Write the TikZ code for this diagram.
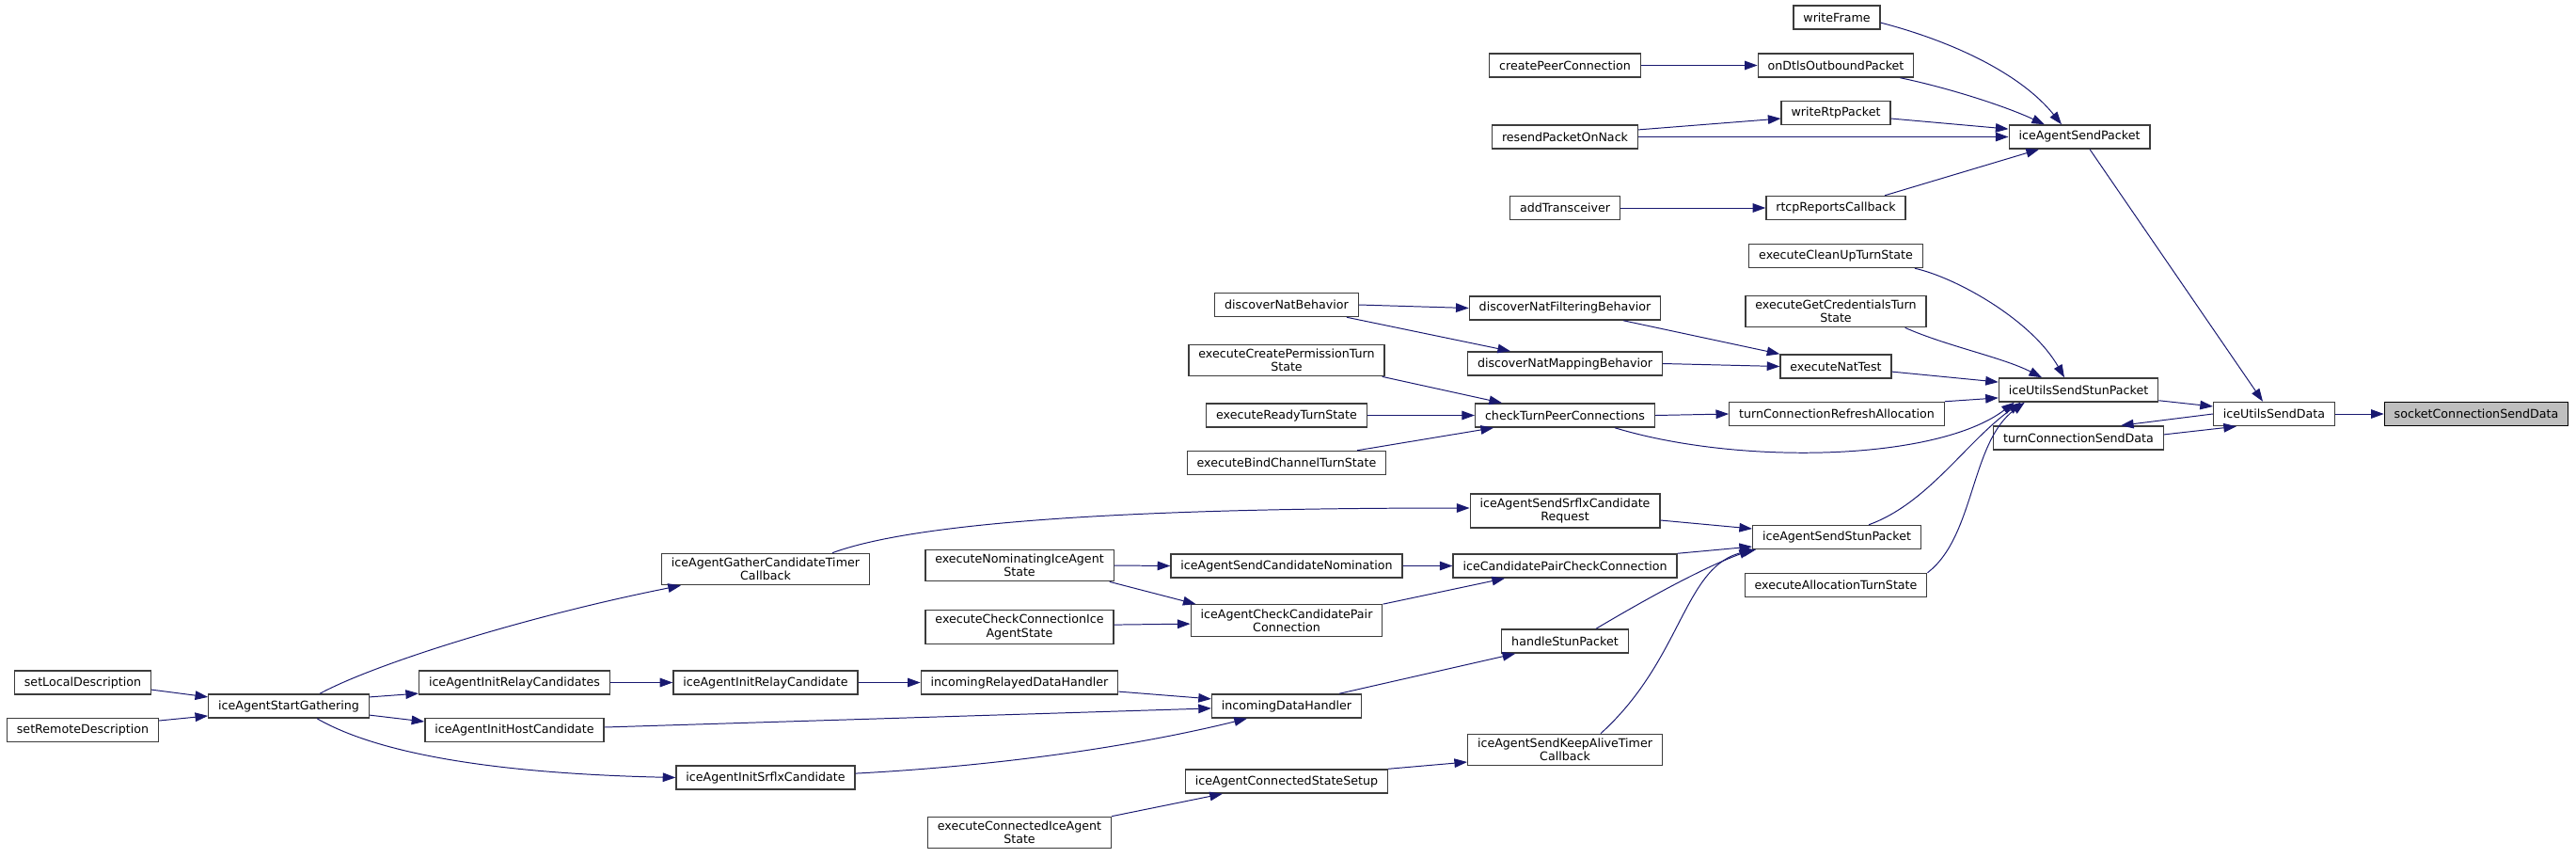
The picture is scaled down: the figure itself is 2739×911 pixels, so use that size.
\documentclass[tikz,border=0pt]{standalone}
\usepackage{fontspec}
\setmainfont{DejaVu Sans}
\usepackage{tikz}
\usetikzlibrary{arrows.meta}
\definecolor{callblue}{RGB}{25,25,112}
\definecolor{boxline}{RGB}{60,60,60}

\begin{document}
\begin{tikzpicture}[
  x=0.25mm,y=-0.25mm,>={Triangle[length=3.4mm,width=2.4mm]},
  fn/.style={draw=boxline,line width=0.9pt,fill=white,
    align=center,font=\fontsize{9}{10}\selectfont,minimum height=6.3mm,
    inner xsep=2.6mm,inner ysep=1.2mm},
  root/.style={fn,draw=black,fill=black!25},
  call/.style={->,draw=callblue,line width=0.7pt}
]
\useasboundingbox (0,0) rectangle (2739,911);
\node[fn]   (wFrame)      at (1953,18.5)  {writeFrame};
\node[fn]   (onDtls)      at (1952,69.5)  {onDtlsOutboundPacket};
\node[fn]   (wRtp)        at (1952,120)   {writeRtpPacket};
\node[fn]   (sendPkt)     at (2211,145.5) {iceAgentSendPacket};
\node[fn]   (rtcp)        at (1952,221)   {rtcpReportsCallback};
\node[fn]   (cleanUp)     at (1952,272)   {executeCleanUpTurnState};
\node[fn]   (getCred)     at (1952,331)   {executeGetCredentialsTurn\\State};
\node[fn]   (natTest)     at (1952,389.5) {executeNatTest};
\node[fn]   (utilsStun)   at (2210,414.5) {iceUtilsSendStunPacket};
\node[fn]   (utilsData)   at (2418,440)   {iceUtilsSendData};
\node[root] (sockData)    at (2633,440)   {socketConnectionSendData};
\node[fn]   (refresh)     at (1953,440)   {turnConnectionRefreshAllocation};
\node[fn]   (turnData)    at (2210,465.5) {turnConnectionSendData};
\node[fn]   (agentStun)   at (1953,571)   {iceAgentSendStunPacket};
\node[fn]   (alloc)       at (1952,622)   {executeAllocationTurnState};
\node[fn]   (createPC)    at (1664,69.5)  {createPeerConnection};
\node[fn]   (resend)      at (1664,145.5) {resendPacketOnNack};
\node[fn]   (addTr)       at (1664,221)   {addTransceiver};
\node[fn]   (natBeh)      at (1368,324)   {discoverNatBehavior};
\node[fn]   (natFilt)     at (1664,327.5) {discoverNatFilteringBehavior};
\node[fn]   (natMap)      at (1664,386.5) {discoverNatMappingBehavior};
\node[fn]   (createPerm)  at (1368,383)   {executeCreatePermissionTurn\\State};
\node[fn]   (ready)       at (1368,441.5) {executeReadyTurnState};
\node[fn]   (checkPeer)   at (1664,441.5) {checkTurnPeerConnections};
\node[fn]   (bindCh)      at (1368,492)   {executeBindChannelTurnState};
\node[fn]   (srflxReq)    at (1664,543)   {iceAgentSendSrflxCandidate\\Request};
\node[fn]   (candNom)     at (1368,601.5) {iceAgentSendCandidateNomination};
\node[fn]   (pairCheck)   at (1664,601.5) {iceCandidatePairCheckConnection};
\node[fn]   (checkPair)   at (1368,659.5) {iceAgentCheckCandidatePair\\Connection};
\node[fn]   (stunPkt)     at (1664,681.5) {handleStunPacket};
\node[fn]   (dataHdl)     at (1368,750.5) {incomingDataHandler};
\node[fn]   (keepAlive)   at (1664,797)   {iceAgentSendKeepAliveTimer\\Callback};
\node[fn]   (connSetup)   at (1368,830.5) {iceAgentConnectedStateSetup};
\node[fn]   (gatherTimer) at (814,605)    {iceAgentGatherCandidateTimer\\Callback};
\node[fn]   (nominating)  at (1084,601)   {executeNominatingIceAgent\\State};
\node[fn]   (checkConn)   at (1084,666.5) {executeCheckConnectionIce\\AgentState};
\node[fn]   (relayCand)   at (814,725.5)  {iceAgentInitRelayCandidate};
\node[fn]   (relayedHdl)  at (1084,725.5) {incomingRelayedDataHandler};
\node[fn]   (srflxCand)   at (814,826.5)  {iceAgentInitSrflxCandidate};
\node[fn]   (connected)   at (1084,885)   {executeConnectedIceAgent\\State};
\node[fn]   (setLocal)    at (88,725.5)   {setLocalDescription};
\node[fn]   (setRemote)   at (88,776)     {setRemoteDescription};
\node[fn]   (startGather) at (307,750.5)  {iceAgentStartGathering};
\node[fn]   (relayCands)  at (547,725.5)  {iceAgentInitRelayCandidates};
\node[fn]   (hostCand)    at (547,776)    {iceAgentInitHostCandidate};

\draw[call] ([yshift=-1.4mm]wFrame.east) .. controls (2080,45) and (2150,80) .. ([xshift=-4.75mm]sendPkt.north);
\draw[call] ([xshift=-3.75mm]onDtls.south east) .. controls (2070,93) and (2130,112) .. ([xshift=-9.25mm]sendPkt.north);
\draw[call] ([yshift=-1.5mm]wRtp.east) -- ([yshift=2.1mm]sendPkt.west);
\draw[call] (resend.east) -- (sendPkt.west);
\draw[call] ([yshift=1.9mm]resend.east) -- ([yshift=-1.5mm]wRtp.west);
\draw[call] (createPC.east) -- (onDtls.west);
\draw[call] (addTr.east) -- (rtcp.west);
\draw[call] ([xshift=13mm]rtcp.north) -- ([xshift=-10.75mm]sendPkt.south);
\draw[call] ([xshift=2.75mm]sendPkt.south) -- ([xshift=-3mm]utilsData.north);
\draw[call] ([xshift=-2.25mm]cleanUp.south east) .. controls (2080,295) and (2160,340) .. ([xshift=-3.75mm]utilsStun.north);
\draw[call] ([xshift=-5.75mm]getCred.south east) .. controls (2070,368) and (2130,380) .. ([xshift=-9.75mm]utilsStun.north);
\draw[call] ([yshift=-1.4mm]natTest.east) -- ([yshift=2.1mm]utilsStun.west);
\draw[call] (refresh.north east) -- ([yshift=-2.1mm]utilsStun.west);
\draw[call] ([xshift=13.25mm]checkPeer.south) .. controls (1850,495) and (2060,490) .. ([xshift=4.25mm]utilsStun.south west);
\draw[call] (checkPeer.east) -- (refresh.west);
\draw[call] ([xshift=8.5mm]agentStun.north) .. controls (2050,535) and (2090,470) .. ([xshift=6mm]utilsStun.south west);
\draw[call] (alloc.north east) .. controls (2100,570) and (2095,470) .. ([xshift=7mm]utilsStun.south west);
\draw[call] ([yshift=0.5mm]utilsStun.south east) -- ([yshift=2mm]utilsData.west);
\draw[call] (utilsData.east) -- (sockData.west);
\draw[call] (utilsData.west) -- ([xshift=11.25mm]turnData.north);
\draw[call] ([yshift=0.9mm]turnData.east) -- ([xshift=6.25mm]utilsData.south west);
\draw[call] ([xshift=15.5mm]natFilt.south) -- (natTest.north west);
\draw[call] (natMap.east) -- (natTest.west);
\draw[call] (natBeh.east) -- (natFilt.west);
\draw[call] ([xshift=-3.25mm]natBeh.south east) -- ([xshift=-14.5mm]natMap.north);
\draw[call] ([xshift=-0.75mm]createPerm.south east) -- ([xshift=-16.75mm]checkPeer.north);
\draw[call] (ready.east) -- (checkPeer.west);
\draw[call] ([xshift=18.75mm]bindCh.north) -- ([xshift=-19mm]checkPeer.south);
\draw[call] ([yshift=-2.5mm]srflxReq.east) -- ([yshift=2.25mm]agentStun.west);
\draw[call] (pairCheck.north east) -- ([yshift=-2.5mm]agentStun.west);
\draw[call] ([xshift=8.25mm]stunPkt.north) .. controls (1770,625) and (1820,600) .. (agentStun.south west);
\draw[call] ([xshift=9.5mm]keepAlive.north) .. controls (1790,700) and (1790,600) .. ([xshift=1mm]agentStun.south west);
\draw[call] ([xshift=-10mm]gatherTimer.north east) .. controls (960,560) and (1150,540) .. ([yshift=0.75mm]srflxReq.west);
\draw[call] (candNom.east) -- (pairCheck.west);
\draw[call] (checkPair.north east) -- ([xshift=-16mm]pairCheck.south);
\draw[call] (nominating.east) -- (candNom.west);
\draw[call] ([xshift=-1.25mm]nominating.south east) -- ([xshift=1.5mm]checkPair.north west);
\draw[call] ([yshift=0.6mm]checkConn.east) -- ([yshift=-0.9mm]checkPair.west);
\draw[call] ([xshift=14mm]dataHdl.north) -- ([xshift=3.75mm]stunPkt.south west);
\draw[call] ([yshift=-2.4mm]relayedHdl.east) -- ([yshift=1.9mm]dataHdl.west);
\draw[call] ([yshift=0.75mm]hostCand.east) -- ([yshift=-0.6mm]dataHdl.west);
\draw[call] ([yshift=1.1mm]srflxCand.east) .. controls (1100,812) and (1240,785) .. ([xshift=9.5mm]dataHdl.south west);
\draw[call] (connSetup.north east) -- ([yshift=-3.25mm]keepAlive.west);
\draw[call] (connected.north east) -- ([xshift=10mm]connSetup.south west);
\draw[call] (relayCand.east) -- (relayedHdl.west);
\draw[call] (relayCands.east) -- (relayCand.west);
\draw[call] ([yshift=2.4mm]startGather.east) -- ([yshift=-2.9mm]relayCands.west);
\draw[call] ([yshift=-2.4mm]startGather.east) -- ([yshift=2.25mm]hostCand.west);
\draw[call] ([xshift=8.25mm]startGather.north) .. controls (400,705) and (560,655) .. ([xshift=5.25mm]gatherTimer.south west);
\draw[call] ([xshift=7.5mm]startGather.south) .. controls (400,800) and (520,822) .. (srflxCand.west);
\draw[call] ([yshift=-1.9mm]setLocal.east) -- ([yshift=2.4mm]startGather.west);
\draw[call] ([yshift=2.5mm]setRemote.east) -- ([yshift=-2.6mm]startGather.west);
\end{tikzpicture}
\end{document}
